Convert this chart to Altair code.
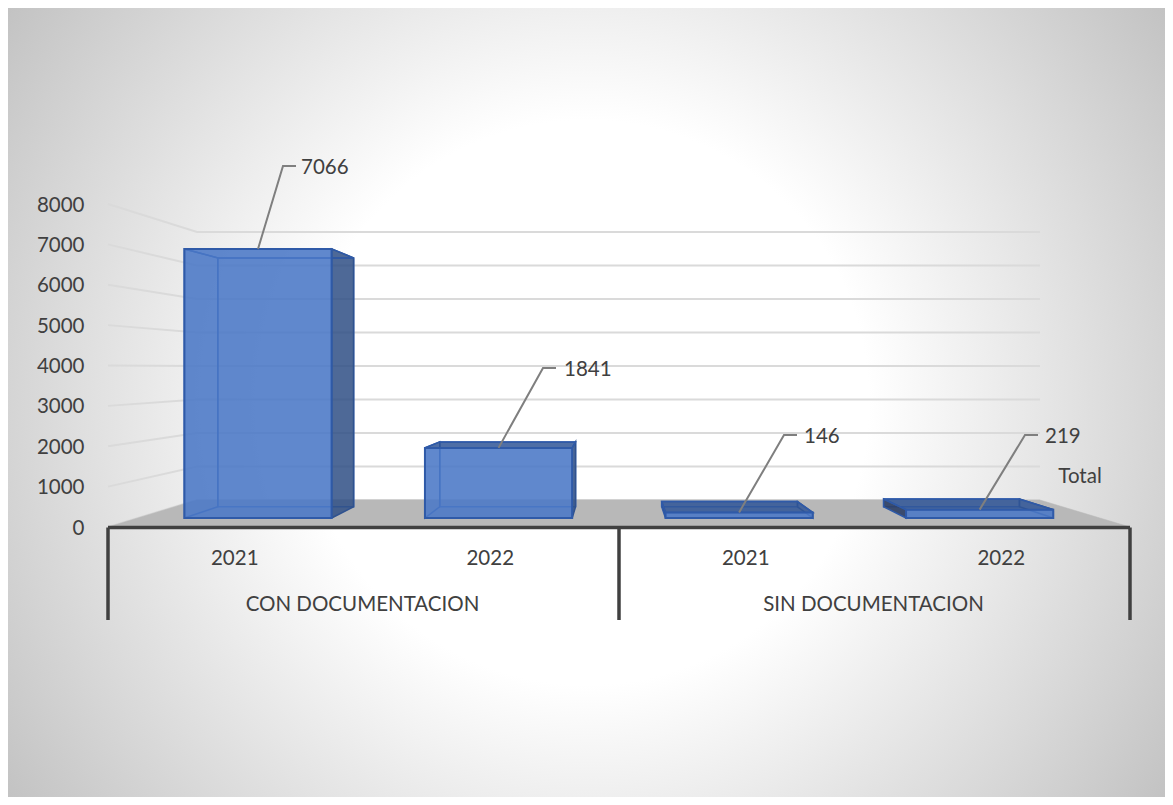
import altair as alt
import pandas as pd

# ---- values ----
groups = ["CON DOCUMENTACION", "SIN DOCUMENTACION"]
years = ["2021", "2022", "2021", "2022"]
totals = [7066, 1841, 146, 219]
y_ticks = [0, 1000, 2000, 3000, 4000, 5000, 6000, 7000, 8000]
series_name = "Total"

FONT = "Lato"
TXT = "#404040"
W, H = 1157, 789
PX_PER_UNIT = 0.040375     # front-plane pixels per value unit
BACK_PX = 0.0335           # back-wall pixels per value unit


def yv(screen):
    """screen row -> front-plane value units"""
    return (527 - screen) / PX_PER_UNIT


def proj(u, t, v=0):
    """(category fraction, depth 0..1, value) -> (x pixel, y units)"""
    left = 108 + 89 * t
    right = 1130 - 90 * t
    base = 527 - 27 * t
    scale = PX_PER_UNIT - (PX_PER_UNIT - BACK_PX) * t
    return left + u * (right - left), yv(base - v * scale)


x_s = alt.Scale(domain=[8, 8 + W], nice=False, zero=False)
y_s = alt.Scale(domain=[yv(8 + H), yv(8)], nice=False, zero=False)
y_axis = alt.Axis(
    values=y_ticks, orient="left", offset=-76, ticks=False, domain=False,
    grid=False, labelPadding=0, labelFont=FONT, labelFontSize=20.5, format="d",
    labelColor=TXT, labelOverlap=False, title=None, zindex=1, labelOffset=1,
)
X = alt.X("x:Q", scale=x_s, axis=None)
X2 = alt.X2("x2:Q")
Y = alt.Y("y:Q", scale=y_s, axis=y_axis)
Y2 = alt.Y2("y2:Q")

# ---- background ----
side = W
bg = alt.Chart(pd.DataFrame({"a": [0]})).mark_rect(
    fill=alt.RadialGradient(
        gradient="radial", x1=0.5, y1=0.5, r1=0.0, x2=0.5, y2=0.5, r2=0.61,
        stops=[
            alt.GradientStop(offset=0.0, color="#ffffff"),
            alt.GradientStop(offset=0.40, color="#ffffff"),
            alt.GradientStop(offset=1.0, color="#c2c2c2"),
        ],
    )
).encode(
    x=alt.value(0), x2=alt.value(side),
    y=alt.value((H - side) / 2), y2=alt.value((H + side) / 2),
)

# ---- walls ----
grid_rows = []
for k, v in enumerate(y_ticks):
    a = proj(0, 0, v)
    b = proj(0, 1, v)
    c = proj(1, 1, v)
    grid_rows += [
        {"id": k, "o": 0, "x": a[0], "y": a[1]},
        {"id": k, "o": 1, "x": b[0], "y": b[1]},
        {"id": k, "o": 2, "x": c[0], "y": c[1]},
    ]
grid = alt.Chart(pd.DataFrame(grid_rows)).mark_line(
    color="#dadada", strokeWidth=2
).encode(x=X, y=Y, detail="id:N", order="o:Q")

# ---- polygons: floor and bars ----
polys = []


def poly(pts, fill, stroke, fo, sw):
    pid = len(polys)
    polys.append([
        {"pid": pid, "o": i, "x": p[0], "y": p[1], "fill": fill, "stroke": stroke,
         "fo": fo, "sw": sw}
        for i, p in enumerate(pts)
    ])


poly([proj(0, 0), proj(1, 0), proj(1, 1), proj(0, 1)], "#b8b8b8", "#b8b8b8", 1, 0.5)

T_F, T_B = 0.334, 0.75
BW = 0.153
for i, v in enumerate(totals):
    u = (i + 0.5) / 4
    l, r = u - BW / 2, u + BW / 2
    f = [proj(l, T_F), proj(r, T_F), proj(r, T_F, v), proj(l, T_F, v)]
    b = [proj(l, T_B), proj(r, T_B), proj(r, T_B, v), proj(l, T_B, v)]
    # a side face is only filled when it faces the viewer
    left_vis = b[0][0] < f[0][0]
    right_vis = b[1][0] > f[1][0]
    top_vis = b[3][1] > f[3][1]
    poly(b, "#4472c4", "#3d6bbf", 0, 1.5)
    poly([f[0], b[0], b[3], f[3]], "#2c3f66", "#2f5aa8", 0.9 if left_vis else 0, 1.5)
    poly([f[1], b[1], b[2], f[2]], "#2f4f85", "#2f528f", 0.85 if right_vis else 0, 1.5)
    poly([f[3], f[2], b[2], b[3]], "#2f5597", "#2f5aa8", 0.85 if top_vis else 0, 1.5)
    poly(f, "#4a77c6", "#2f5aa8", 0.88, 2)

poly_df = pd.DataFrame([r for p in polys for r in p])
shapes = alt.Chart(poly_df).mark_line(interpolate="linear-closed").encode(
    x=X, y=Y,
    detail="pid:N",
    order="o:Q",
    fill=alt.Fill("fill:N", scale=None),
    stroke=alt.Stroke("stroke:N", scale=None),
    fillOpacity=alt.FillOpacity("fo:Q", scale=None),
    strokeWidth=alt.StrokeWidth("sw:Q", scale=None),
)

# ---- multi-level category axis ----
frame_rows = [
    {"x": proj(0, 0)[0], "x2": proj(1, 0)[0], "y": yv(527.5), "y2": yv(527.5)},
    {"x": proj(0, 0)[0], "x2": proj(0, 0)[0], "y": yv(527.5), "y2": yv(620)},
    {"x": proj(0.5, 0)[0], "x2": proj(0.5, 0)[0], "y": yv(527.5), "y2": yv(620)},
    {"x": proj(1, 0)[0], "x2": proj(1, 0)[0], "y": yv(527.5), "y2": yv(620)},
]
frame = alt.Chart(pd.DataFrame(frame_rows)).mark_rule(
    color="#404040", strokeWidth=3.5
).encode(x=X, x2=X2, y=Y, y2=Y2)

label_rows = [
    {"x": proj((i + 0.5) / 4, 0)[0] - 1, "y": yv(559), "t": s} for i, s in enumerate(years)
] + [
    {"x": proj((i + 0.5) / 2, 0)[0] - 1, "y": yv(605), "t": s} for i, s in enumerate(groups)
] + [{"x": 1080, "y": yv(477), "t": series_name}]
cat_text = alt.Chart(pd.DataFrame(label_rows)).mark_text(
    font=FONT, fontSize=20.5, color=TXT, align="center", baseline="middle"
).encode(x=X, y=Y, text="t:N")

# ---- data labels with leader lines ----
elbows = [(283, 166), (543, 368), (784, 435), (1025, 435)]
label_left = [301, 564, 804, 1045]
ELBOW_TAIL = 13
lead_rows, val_rows = [], []
for i, (v, (ex, ey), lx) in enumerate(zip(totals, elbows, label_left)):
    s = proj((i + 0.5) / 4, T_F, v)
    lead_rows += [
        {"id": i, "o": 0, "x": s[0], "y": s[1]},
        {"id": i, "o": 1, "x": ex, "y": yv(ey)},
        {"id": i, "o": 2, "x": ex + ELBOW_TAIL, "y": yv(ey)},
    ]
    val_rows.append({"x": lx, "y": yv(ey + 2), "t": str(v)})
leaders = alt.Chart(pd.DataFrame(lead_rows)).mark_line(
    color="#7f7f7f", strokeWidth=2
).encode(x=X, y=Y, detail="id:N", order="o:Q")
val_text = alt.Chart(pd.DataFrame(val_rows)).mark_text(
    font=FONT, fontSize=20.5, color=TXT, align="left", baseline="middle"
).encode(x=X, y=Y, text="t:N")

chart = alt.layer(
    bg, grid, shapes, frame, leaders, cat_text, val_text
).properties(
    width=W, height=H, padding=0, autosize=alt.AutoSizeParams(type="none"),
).configure_view(stroke=None)

chart.save("out.html", embed_options={"renderer": "svg", "actions": False})
